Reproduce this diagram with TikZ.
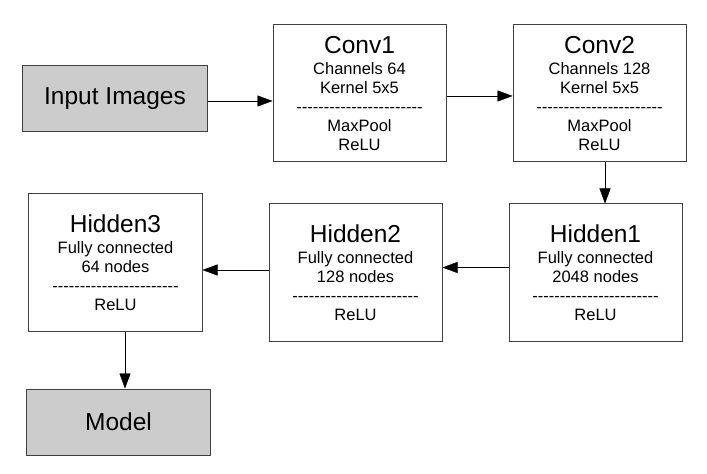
\documentclass[tikz,border=0pt]{standalone}
\usepackage{fontspec}
\setmainfont{Liberation Sans}
\usepackage{xcolor}
\usepackage{tikz}
\usetikzlibrary{arrows.meta,positioning,calc}

\definecolor{boxgray}{HTML}{CCCCCC}
\definecolor{edgegray}{HTML}{404040}

% title line of a box, and the row of hyphens
\newcommand{\boxtitle}[1]{{\fontsize{24.5bp}{28bp}\selectfont #1}\\[2bp]}
\newcommand{\dashrow}{\foreach \i in {1,...,23}{-\kern0pt}}

\begin{document}
\begin{tikzpicture}[x=1bp, y=-1bp, >={Triangle[length=15bp,width=11bp]},
    layer/.style={rectangle, draw=edgegray, line width=1bp, minimum width=173bp, minimum height=137bp, align=center, font=\fontsize{16.5bp}{19bp}\selectfont},
    io/.style={rectangle, draw=edgegray, line width=1bp, fill=boxgray, minimum width=184bp, minimum height=66bp, font=\fontsize{24.5bp}{28bp}\selectfont}]
    \fill[white] (0,0) rectangle (707,474);
    \useasboundingbox (0,0) rectangle (707,474);

    \node (input) [io] at (115,99) {Input Images};
    \node (conv1) [layer, right=65bp of input, yshift=5.5bp] {\boxtitle{Conv1}Channels 64\\Kernel 5x5\\\dashrow\\MaxPool\\ReLU};
    \node (conv2) [layer, right=66bp of conv1] {\boxtitle{Conv2}Channels 128\\Kernel 5x5\\\dashrow\\MaxPool\\ReLU};
    \node (hidden1) [layer, below=41bp of conv2, xshift=-4bp] {\boxtitle{Hidden1}Fully connected\\2048 nodes\\\dashrow\\ReLU};
    \node (hidden2) [layer, left=66bp of hidden1] {\boxtitle{Hidden2}Fully connected\\128 nodes\\\dashrow\\ReLU};
    \node (hidden3) [layer, left=66bp of hidden2, yshift=10bp] {\boxtitle{Hidden3}Fully connected\\64 nodes\\\dashrow\\ReLU};
    \node (model) [io, below=57bp of hidden3, xshift=3bp] {Model};

    \draw [->] ([yshift=-2bp]input.east) -- ([yshift=-2bp]input.east -| conv1.west);
    \draw [->] ([yshift=-2.5bp]conv1.east) -- ([yshift=-2.5bp]conv1.east -| conv2.west);
    \draw [->] ([xshift=5.5bp]conv2.south) -- ([xshift=5.5bp]conv2.south |- hidden1.north);
    \draw [->] ([yshift=5bp]hidden1.west) -- ([yshift=5bp]hidden1.west -| hidden2.east);
    \draw [->] ([yshift=2.5bp]hidden2.west) -- ([yshift=2.5bp]hidden2.west -| hidden3.east);
    \draw [->] ([xshift=9.5bp]hidden3.south) -- ([xshift=9.5bp]hidden3.south |- model.north);
\end{tikzpicture}
\end{document}
